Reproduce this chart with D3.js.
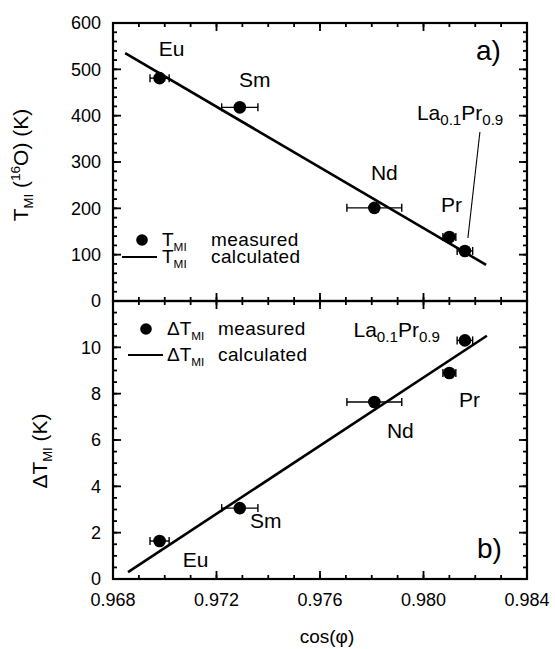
<!DOCTYPE html>
<html>
<head>
<meta charset="utf-8">
<script src="https://cdn.jsdelivr.net/npm/d3@7"></script>
<style>
  body { margin: 0; background: #fff; }
  svg { display: block; }
  text { font-family: "Liberation Sans", Arial, Helvetica, sans-serif; fill: #000; }
</style>
</head>
<body>
<div id="chart"></div>
<script>
// Data
const samples = ["Eu", "Sm", "Nd", "Pr", "La0.1Pr0.9"];
const cosPhi = [0.9698, 0.9729, 0.9781, 0.9810, 0.9816];
const cosPhiErr = [0.00037, 0.0007, 0.00106, 0.00025, 0.0003];
const tmiMeasured = [481, 418, 201, 138, 108];
const dTmiMeasured = [1.64, 3.06, 7.64, 8.89, 10.3];

// calculated lines (end points)
const tmiCalcX = [0.96847, 0.98242];
const tmiCalcY = [535, 78];
const dTmiCalcX = [0.96858, 0.98245];
const dTmiCalcY = [0.3, 10.5];

// ticks
const xMajor = [0.968, 0.972, 0.976, 0.980, 0.984];
const xMinor = d3.range(0, 17).map(i => 0.968 + i * 0.001);
const tmiMajor = [0, 100, 200, 300, 400, 500, 600];
const tmiMinor = d3.range(0, 31).map(i => i * 20);
const dTmiMajor = [0, 2, 4, 6, 8, 10, 12];
const dTmiMinor = d3.range(0, 25).map(i => i * 0.5);

const width = 555, height = 649;
const left = 113, right = 527;
const topA = 23, midY = 301, botB = 579;

const svg = d3.select("#chart").append("svg")
    .attr("width", width)
    .attr("height", height);

const x = d3.scaleLinear().domain([0.968, 0.984]).range([left, right]);
const yA = d3.scaleLinear().domain([0, 600]).range([midY, topA]);
const yB = d3.scaleLinear().domain([0, 12]).range([botB, midY]);

const fmtX = d3.format(".3f");

// inside ticks on all four sides of a panel, then frame
function frame(y, major, minor, top, bottom, yLabelSkip) {
    const segs = [];
    [[xMinor, 4], [xMajor, 8]].forEach(([vals, len]) => vals.forEach(v => {
        segs.push([x(v), bottom, x(v), bottom - len]);
        segs.push([x(v), top, x(v), top + len]);
    }));
    [[minor, 4], [major, 8]].forEach(([vals, len]) => vals.forEach(v => {
        segs.push([left, y(v), left + len, y(v)]);
        segs.push([right, y(v), right - len, y(v)]);
    }));
    svg.append("g").selectAll("line")
        .data(segs)
        .join("line")
        .attr("x1", s => s[0]).attr("y1", s => s[1])
        .attr("x2", s => s[2]).attr("y2", s => s[3])
        .attr("stroke", "#000").attr("stroke-width", 1.8);

    // y tick labels
    svg.append("g").selectAll("text")
        .data(major.filter(v => !yLabelSkip.includes(v)))
        .join("text")
        .attr("x", left - 12)
        .attr("y", d => y(d))
        .attr("dy", "0.36em")
        .attr("text-anchor", "end")
        .style("font-size", "18px")
        .text(d => d);

    svg.append("rect")
        .attr("x", left).attr("y", top)
        .attr("width", right - left).attr("height", bottom - top)
        .attr("fill", "none").attr("stroke", "#000").attr("stroke-width", 2.2);
}

frame(yA, tmiMajor, tmiMinor, topA, midY, []);
frame(yB, dTmiMajor, dTmiMinor, midY, botB, [12]);

// x tick labels
svg.append("g").selectAll("text")
    .data(xMajor)
    .join("text")
    .attr("x", d => x(d))
    .attr("y", 606)
    .attr("text-anchor", "middle")
    .style("font-size", "18px")
    .text(d => fmtX(d));

// calculated lines
const line = d3.line();
svg.append("path")
    .attr("d", line(tmiCalcX.map((v, i) => [x(v), yA(tmiCalcY[i])])))
    .attr("fill", "none").attr("stroke", "#000").attr("stroke-width", 2.6);
svg.append("path")
    .attr("d", line(dTmiCalcX.map((v, i) => [x(v), yB(dTmiCalcY[i])])))
    .attr("fill", "none").attr("stroke", "#000").attr("stroke-width", 2.6);

// measured points with horizontal error bars
function points(y, vals) {
    const g = svg.append("g");
    const d = samples.map((s, i) => ({ c: cosPhi[i], e: cosPhiErr[i], v: vals[i] }));
    g.selectAll("line.err").data(d).join("line")
        .attr("x1", p => x(p.c - p.e)).attr("x2", p => x(p.c + p.e))
        .attr("y1", p => y(p.v)).attr("y2", p => y(p.v))
        .attr("stroke", "#000").attr("stroke-width", 1.4);
    g.selectAll("line.capl").data(d).join("line")
        .attr("x1", p => x(p.c - p.e)).attr("x2", p => x(p.c - p.e))
        .attr("y1", p => y(p.v) - 4).attr("y2", p => y(p.v) + 4)
        .attr("stroke", "#000").attr("stroke-width", 1.4);
    g.selectAll("line.capr").data(d).join("line")
        .attr("x1", p => x(p.c + p.e)).attr("x2", p => x(p.c + p.e))
        .attr("y1", p => y(p.v) - 4).attr("y2", p => y(p.v) + 4)
        .attr("stroke", "#000").attr("stroke-width", 1.4);
    g.selectAll("circle").data(d).join("circle")
        .attr("cx", p => x(p.c)).attr("cy", p => y(p.v))
        .attr("r", 6.3).attr("fill", "#000");
}
points(yA, tmiMeasured);
points(yB, dTmiMeasured);

// text helper: parts = [[text, kind]]
function rich(t, parts, size) {
    t.style("font-size", size + "px");
    parts.forEach(([s, k]) => {
        const sp = t.append("tspan").text(s);
        if (k === "sub") sp.style("font-size", (size * 0.62) + "px").attr("baseline-shift", "-38%");
        if (k === "subN") sp.style("font-size", (size * 0.72) + "px").attr("baseline-shift", "-30%");
        if (k === "sup") sp.style("font-size", (size * 0.65) + "px").attr("baseline-shift", "55%");
    });
    return t;
}
const laPr = [["La", ""], ["0.1", "subN"], ["Pr", ""], ["0.9", "subN"]];

// sample labels: pixel offsets from each point
const labelA = [[12, -22, "middle"], [15, -20, "middle"], [10, -28, "middle"], [2, -25, "middle"], [-48, -131, "start"]];
const labelB = [[36, 26, "middle"], [26, 20, "middle"], [26, 36, "middle"], [20, 34, "middle"], [-25, -3, "end"]];

function sampleLabels(y, vals, offs) {
    samples.forEach((s, i) => {
        const t = svg.append("text")
            .attr("x", x(cosPhi[i]) + offs[i][0])
            .attr("y", y(vals[i]) + offs[i][1])
            .attr("text-anchor", offs[i][2]);
        if (s === "La0.1Pr0.9") rich(t, laPr, 21);
        else rich(t, [[s, ""]], 21);
    });
}
sampleLabels(yA, tmiMeasured, labelA);
sampleLabels(yB, dTmiMeasured, labelB);

// leader line to La0.1Pr0.9 in panel a
svg.append("line")
    .attr("x1", x(cosPhi[4]) + 15).attr("y1", yA(tmiMeasured[4]) - 119)
    .attr("x2", x(cosPhi[4]) + 3).attr("y2", yA(tmiMeasured[4]) - 13)
    .attr("stroke", "#000").attr("stroke-width", 1.1);

// panel letters
svg.append("text").attr("x", 476).attr("y", 60).style("font-size", "28px").text("a)");
svg.append("text").attr("x", 477).attr("y", 558).style("font-size", "28px").text("b)");

// legends
function legend(ly1, ly2, dotX, l1, l2, pre, tx, mx) {
    svg.append("circle").attr("cx", dotX).attr("cy", ly1).attr("r", 5.8).attr("fill", "#000");
    svg.append("line").attr("x1", l1).attr("x2", l2).attr("y1", ly2).attr("y2", ly2)
        .attr("stroke", "#000").attr("stroke-width", 1.8);
    [[ly1, "measured"], [ly2, "calculated"]].forEach(([yy, word]) => {
        rich(svg.append("text").attr("x", tx).attr("y", yy + 6), [[pre + "T", ""], ["MI", "sub"]], 19);
        svg.append("text").attr("x", mx).attr("y", yy + 6)
            .style("font-size", "19px").style("letter-spacing", "0.4px").text(word);
    });
}
legend(240, 257, 142, 122, 157, "", 162, 211);
legend(329, 355, 146, 128, 163, "\u0394", 167, 218);

// axis titles
rich(svg.append("text")
    .attr("transform", "translate(28,165) rotate(-90)")
    .attr("text-anchor", "middle"),
    [["T", ""], ["MI", "sub"], [" (", ""], ["16", "sup"], ["O) (K)", ""]], 21);
rich(svg.append("text")
    .attr("transform", "translate(47,451) rotate(-90)")
    .attr("text-anchor", "middle"),
    [["\u0394T", ""], ["MI", "sub"], [" (K)", ""]], 21);
svg.append("text")
    .attr("x", 327).attr("y", 643)
    .attr("text-anchor", "middle")
    .style("font-size", "19px")
    .text("cos(\u03c6)");
</script>
</body>
</html>
